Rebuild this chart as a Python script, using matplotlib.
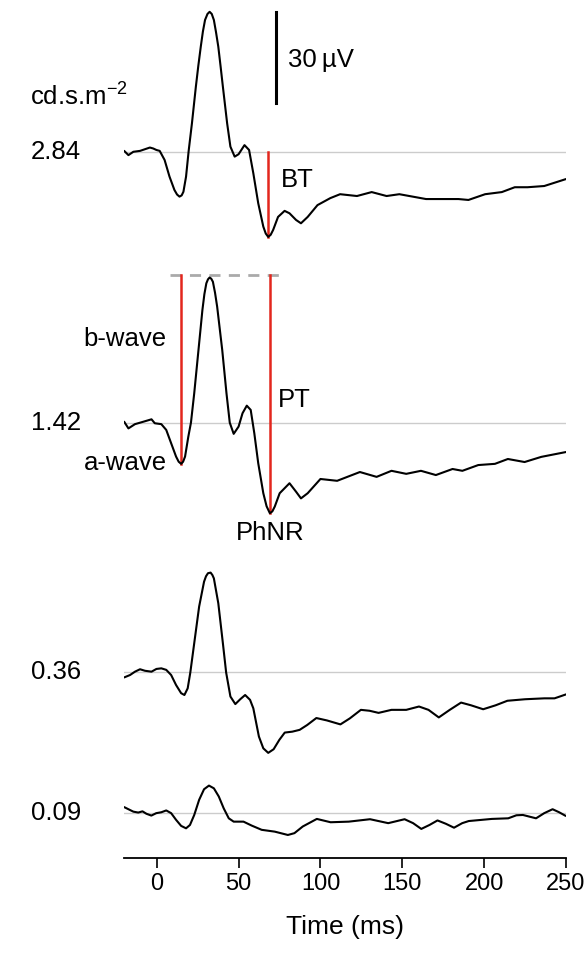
import matplotlib
matplotlib.use("Agg")
import matplotlib.pyplot as plt

plt.rcParams['font.family'] = ['Liberation Sans', 'DejaVu Sans']
plt.rcParams['mathtext.fontset'] = 'custom'
plt.rcParams['mathtext.rm'] = 'Liberation Sans'

# flash intensities (cd.s.m-2) and the vertical offset of each trace (uV)
intensities = ['2.84', '1.42', '0.36', '0.09']
offsets = [233.0, 143.6, 61.4, 15.0]

# traces: time (ms), amplitude (uV)
t_284 = [-19.9, -17.3, -14.3, -10.2, -4.2, -2.2, -0.2, 1.8, 4.8, 7.8, 10.8, 12.4, 13.9, 15.2, 16.3,
         17.9, 19.5, 21.5, 23.9, 25.4, 26.9, 28.2, 29.5, 31.0, 32.3, 33.6, 34.9, 36.2, 37.6, 39.0,
         40.4, 43.0, 45.0, 47.6, 50.0, 53.6, 56.4, 59.0, 62.0, 65.1, 66.6, 68.1, 69.6, 71.1, 74.1,
         78.1, 81.1, 85.1, 88.1, 92.2, 98.2, 106.0, 112.0, 122.3, 131.3, 140.4, 148.2, 164.5,
         184.3, 190.4, 200.6, 210.8, 218.7, 226.5, 236.7, 250.0]
v_284 = [0.4, -1.0, 0.1, 0.4, 1.5, 1.2, 0.7, 0.4, -2.6, -8.1, -12.5, -14.0, -14.7, -14.3, -13.1,
         -8.1, 0.4, 9.5, 21.6, 28.5, 34.8, 39.8, 43.6, 45.6, 46.3, 45.6, 43.6, 39.6, 34.8, 28.3,
         21.6, 9.5, 1.8, -1.5, -0.7, 2.3, 0.7, -7.0, -16.9, -24.6, -26.9, -28.0, -27.3, -25.7, -21.4,
         -19.4, -20.2, -22.4, -23.5, -21.4, -17.5, -15.2, -13.9, -14.5, -13.2, -14.5, -13.9, -15.5,
         -15.5, -15.8, -13.9, -13.2, -11.6, -11.6, -11.2, -8.9]

t_142 = [-19.9, -17.3, -13.3, -8.2, -3.2, -1.2, 2.8, 5.8, 8.8, 11.8, 13.4, 14.9, 16.1, 17.3,
         19.3, 20.9, 22.9, 25.5, 27.9, 29.1, 30.3, 31.3, 32.3, 33.3, 34.3, 35.6, 36.9, 40.0,
         42.6, 44.6, 47.0, 50.0, 52.4, 55.0, 57.4, 59.6, 62.0, 65.1, 67.1, 69.1, 70.6, 72.1,
         75.1, 81.1, 85.1, 88.1, 92.2, 100.0, 110.2, 124.1, 134.3, 143.4, 152.4, 161.4, 170.5,
         180.7, 186.7, 196.4, 206.6, 214.5, 224.7, 234.9, 250.0]
v_142 = [0.4, -1.8, -0.4, 0.4, 1.2, -0.1, -0.4, -2.3, -6.7, -11.1, -12.8, -13.5, -12.8, -11.1,
         -4.5, 0.1, 9.8, 24.1, 37.3, 42.5, 46.1, 47.4, 48.0, 47.6, 46.6, 43.0, 38.4, 24.1,
         9.8, 0.1, -3.6, -1.2, 3.2, 5.7, 4.3, -3.4, -13.3, -23.2, -27.5, -29.8, -29.2, -27.6,
         -23.2, -19.9, -22.7, -24.9, -23.2, -18.5, -19.1, -16.2, -17.8, -15.8, -16.8, -15.8, -17.2,
         -15.2, -15.8, -13.9, -13.5, -11.9, -12.9, -11.2, -9.6]

t_036 = [-19.9, -16.3, -13.3, -10.2, -7.2, -3.2, -0.2, 2.8, 5.8, 8.8, 11.8, 14.9, 16.9, 18.9,
         20.5, 22.9, 25.9, 28.9, 30.1, 31.3, 32.9, 34.0, 34.9, 37.6, 40.4, 42.4, 45.0, 48.0, 51.0,
         54.0, 57.0, 59.0, 62.4, 65.1, 68.1, 71.4, 74.9, 78.2, 82.8, 87.3, 91.9, 97.5, 104.0,
         112.2, 118.0, 124.7, 130.0, 135.5, 143.4, 152.4, 160.2, 166.0, 172.3, 179.0, 185.9,
         192.0, 199.4, 207.0, 214.2, 225.0, 236.8, 243.0, 250.0]
v_036 = [-1.8, -1.0, 0.1, 0.9, 0.4, 0.1, 1.0, 1.2, 0.7, -1.0, -4.3, -7.0, -7.6, -5.4,
         -0.2, 9.5, 21.6, 29.8, 31.6, 32.6, 32.8, 32.0, 30.9, 22.7, 9.5, -0.2, -8.1, -10.6, -9.0,
         -7.6, -9.2, -12.0, -21.3, -25.2, -26.7, -25.5, -22.4, -20.0, -19.7, -19.1, -17.5, -15.2, -16.0,
         -17.3, -15.3, -12.5, -12.8, -13.5, -12.5, -12.5, -11.4, -12.5, -15.0, -12.5, -10.1,
         -11.0, -12.3, -11.0, -9.5, -9.0, -8.7, -8.7, -7.4]

t_009 = [-19.9, -17.3, -14.3, -11.3, -8.7, -6.3, -3.3, -0.3, 2.8, 5.8, 8.8, 11.8, 14.9, 17.9,
         20.3, 22.9, 25.9, 28.9, 31.9, 34.9, 37.9, 40.9, 44.0, 47.0, 53.0, 58.0, 64.1, 72.1,
         80.1, 84.1, 89.2, 97.8, 106.2, 117.3, 130.3, 141.4, 151.4, 156.6, 161.6, 166.6, 171.5,
         176.6, 181.6, 186.6, 190.6, 204.7, 214.7, 219.7, 223.7, 231.7, 236.7, 241.8, 245.8, 249.8]
v_009 = [1.8, 1.1, 0.3, 0.0, 0.4, -0.4, -1.0, -0.2, 0.1, 0.7, -0.2, -2.4, -4.4, -5.2,
         -4.1, -0.8, 4.2, 7.7, 8.9, 8.0, 5.3, 1.4, -1.9, -3.0, -3.0, -4.3, -5.7, -6.3,
         -7.4, -6.8, -4.6, -2.1, -3.2, -3.0, -2.2, -3.5, -2.2, -3.5, -5.4, -4.1, -2.6,
         -3.7, -5.0, -3.5, -2.8, -2.1, -1.9, -0.9, -0.8, -1.9, -0.2, 1.1, 0.1, -1.1]

traces = [(t_284, v_284), (t_142, v_142), (t_036, v_036), (t_009, v_009)]

# measurement markers (ms, uV)
bt_time, bt_trough = 68.1, -28.0
a_time, a_trough = 14.9, -13.5
pt_time, pt_trough = 69.1, -29.8
b_level = 48.8
dash_start, dash_end = 7.8, 75.0

red = '#e3261d'
fs = 18.5

fig = plt.figure(figsize=(5.87, 9.59), dpi=100)
ax = fig.add_axes([124 / 587, 1 - 858 / 959, 442 / 587, 858 / 959])

for (t, v), off, lab in zip(traces, offsets, intensities):
    ax.plot([-20, 250], [off, off], color='#cccccc', lw=1.0, zorder=1)
    ax.plot(t, [x + off for x in v], color='black', lw=1.5, zorder=3,
            solid_joinstyle='round', solid_capstyle='round')
    ax.text(-46.4, off, lab, ha='right', va='center', fontsize=fs)

# BT on the brightest flash
o1 = offsets[0]
ax.plot([bt_time, bt_time], [o1, o1 + bt_trough], color=red, lw=1.8, zorder=2)
ax.text(75.9, o1 - 9.2, 'BT', ha='left', va='center', fontsize=fs)

# a-wave, b-wave and PT on the second flash
o2 = offsets[1]
ax.plot([dash_start, dash_end], [o2 + b_level, o2 + b_level], color='#aaaaaa', lw=2.0,
        dashes=(4, 3), zorder=2)
ax.plot([a_time, a_time], [o2 + a_trough, o2 + b_level], color=red, lw=1.8, zorder=2)
ax.plot([pt_time, pt_time], [o2 + pt_trough, o2 + b_level], color=red, lw=1.8, zorder=2)
ax.text(6.0, o2 + 27.7, 'b-wave', ha='right', va='center', fontsize=fs)
ax.text(6.0, o2 - 13.2, 'a-wave', ha='right', va='center', fontsize=fs)
ax.text(74.0, o2 + 7.6, 'PT', ha='left', va='center', fontsize=fs)
ax.text(69.3, o2 - 36.3, 'PhNR', ha='center', va='center', fontsize=fs)

# scale bar
ax.plot([72.9, 72.9], [249.2, 279.2], color='black', lw=2.2)
ax.text(80.0, 263.4, '30\u2009\u00b5V', ha='left', va='center', fontsize=fs)
ax.text(-77.7, 251.5, r'cd.s.m$^{\mathregular{-2}}$', ha='left', va='center', fontsize=fs)

ax.set_xlim(-20, 250)
ax.set_ylim(0, 283.2)
ax.set_xticks([0, 50, 100, 150, 200, 250])
ax.set_yticks([])
for s in ['left', 'top', 'right']:
    ax.spines[s].set_visible(False)
ax.spines['bottom'].set_linewidth(1.3)
ax.tick_params(axis='x', direction='out', length=7, width=1.2, labelsize=17, pad=4)
ax.set_xlabel('Time (ms)', fontsize=19, labelpad=14)
ax.patch.set_alpha(0)

fig.savefig('out.png', dpi=100)
